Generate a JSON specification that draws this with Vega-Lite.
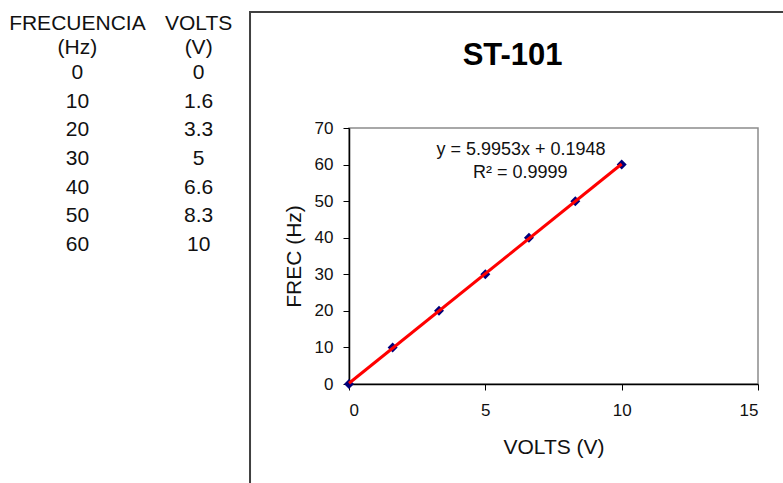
{
  "$schema": "https://vega.github.io/schema/vega-lite/v6.json",
  "padding": {"left": 9, "top": 10, "right": 0, "bottom": 0},
  "background": "white",
  "config": {
    "font": "Liberation Sans",
    "view": {"stroke": null},
    "axis": {
      "grid": false, "domainColor": "#000", "domainWidth": 1.5,
      "tickColor": "#000", "tickSize": 6,
      "labelFontSize": 17, "labelColor": "#111",
      "titleFontSize": 21, "titleFontWeight": "normal", "titleColor": "#111"
    },
    "axisX": {"labelPadding": 12, "titlePadding": 18},
    "axisY": {"labelPadding": 10, "titlePadding": 10}
  },
  "datasets": {
    "st101": [
      {"frec": 0, "volts": 0},
      {"frec": 10, "volts": 1.6},
      {"frec": 20, "volts": 3.3},
      {"frec": 30, "volts": 5},
      {"frec": 40, "volts": 6.6},
      {"frec": 50, "volts": 8.3},
      {"frec": 60, "volts": 10}
    ],
    "headers": [
      {"col": "frec", "h1": "FRECUENCIA", "h2": "(Hz)"},
      {"col": "volts", "h1": "VOLTS", "h2": "(V)"}
    ]
  },
  "spacing": 13,
  "hconcat": [
    {
      "width": 194,
      "height": 256,
      "layer": [
        {
          "data": {"name": "st101"},
          "transform": [{"fold": ["frec", "volts"], "as": ["col", "val"]}],
          "mark": {"type": "text", "fontSize": 21, "color": "#111", "baseline": "middle"},
          "encoding": {
            "x": {"field": "col", "type": "nominal", "scale": {"type": "point", "padding": 0.3}, "axis": null},
            "y": {"field": "frec", "type": "quantitative", "scale": {"domain": [19.19, 108.49], "reverse": true, "nice": false, "zero": false}, "axis": null},
            "text": {"field": "val", "type": "nominal"}
          }
        },
        {
          "data": {"name": "headers"},
          "mark": {"type": "text", "fontSize": 21, "color": "#111", "baseline": "middle"},
          "encoding": {
            "x": {"field": "col", "type": "nominal", "axis": null},
            "y": {"datum": -17.09, "type": "quantitative", "axis": null},
            "text": {"field": "h1", "type": "nominal"}
          }
        },
        {
          "data": {"name": "headers"},
          "mark": {"type": "text", "fontSize": 21, "color": "#111", "baseline": "middle"},
          "encoding": {
            "x": {"field": "col", "type": "nominal", "axis": null},
            "y": {"datum": -8.72, "type": "quantitative", "axis": null},
            "text": {"field": "h2", "type": "nominal"}
          }
        }
      ]
    },
    {
      "width": 409,
      "height": 256,
      "view": {"stroke": "#8c8c8c", "strokeWidth": 1.5},
      "layer": [
        {
          "data": {"values": [{"box": "frame"}]},
          "mark": {"type": "rect", "fill": "transparent", "stroke": "#404040", "strokeWidth": 2},
          "encoding": {
            "x": {"datum": -3.63, "type": "quantitative", "scale": {"domain": [0, 15], "nice": false, "zero": false}, "axis": {"title": "VOLTS (V)", "values": [0, 5, 10, 15]}},
            "x2": {"datum": 17},
            "y": {"datum": 101.7, "type": "quantitative", "scale": {"domain": [0, 70], "nice": false}, "axis": {"title": "FREC (Hz)", "values": [0, 10, 20, 30, 40, 50, 60, 70]}},
            "y2": {"datum": -35}
          }
        },
        {
          "data": {"name": "st101"},
          "mark": {"type": "point", "shape": "diamond", "filled": true, "color": "#00007a", "size": 100, "opacity": 1},
          "encoding": {
            "x": {"field": "volts", "type": "quantitative", "axis": {"title": "VOLTS (V)", "values": [0, 5, 10, 15]}},
            "y": {"field": "frec", "type": "quantitative", "axis": {"title": "FREC (Hz)", "values": [0, 10, 20, 30, 40, 50, 60, 70]}}
          }
        },
        {
          "data": {"name": "st101"},
          "transform": [{"regression": "frec", "on": "volts"}],
          "mark": {"type": "line", "color": "#ff0000", "strokeWidth": 3},
          "encoding": {
            "x": {"field": "volts", "type": "quantitative", "axis": {"title": "VOLTS (V)", "values": [0, 5, 10, 15]}},
            "y": {"field": "frec", "type": "quantitative", "axis": {"title": "FREC (Hz)", "values": [0, 10, 20, 30, 40, 50, 60, 70]}}
          }
        },
        {
          "data": {"values": [{"label": "ST-101"}]},
          "mark": {"type": "text", "fontSize": 31, "fontWeight": "bold", "color": "#000", "baseline": "middle", "align": "center"},
          "encoding": {
            "x": {"datum": 6.0, "type": "quantitative", "axis": {"title": "VOLTS (V)", "values": [0, 5, 10, 15]}},
            "y": {"datum": 89.7, "type": "quantitative", "axis": {"title": "FREC (Hz)", "values": [0, 10, 20, 30, 40, 50, 60, 70]}},
            "text": {"field": "label", "type": "nominal"}
          }
        },
        {
          "data": {"values": [{"eq": "y = 5.9953x + 0.1948"}]},
          "mark": {"type": "text", "fontSize": 18, "color": "#111", "baseline": "middle", "align": "center"},
          "encoding": {
            "x": {"datum": 6.31, "type": "quantitative", "axis": {"title": "VOLTS (V)", "values": [0, 5, 10, 15]}},
            "y": {"datum": 64.0, "type": "quantitative", "axis": {"title": "FREC (Hz)", "values": [0, 10, 20, 30, 40, 50, 60, 70]}},
            "text": {"field": "eq", "type": "nominal"}
          }
        },
        {
          "data": {"values": [{"r2": "R² = 0.9999"}]},
          "mark": {"type": "text", "fontSize": 18, "color": "#111", "baseline": "middle", "align": "center"},
          "encoding": {
            "x": {"datum": 6.28, "type": "quantitative", "axis": {"title": "VOLTS (V)", "values": [0, 5, 10, 15]}},
            "y": {"datum": 57.7, "type": "quantitative", "axis": {"title": "FREC (Hz)", "values": [0, 10, 20, 30, 40, 50, 60, 70]}},
            "text": {"field": "r2", "type": "nominal"}
          }
        }
      ]
    }
  ]
}
